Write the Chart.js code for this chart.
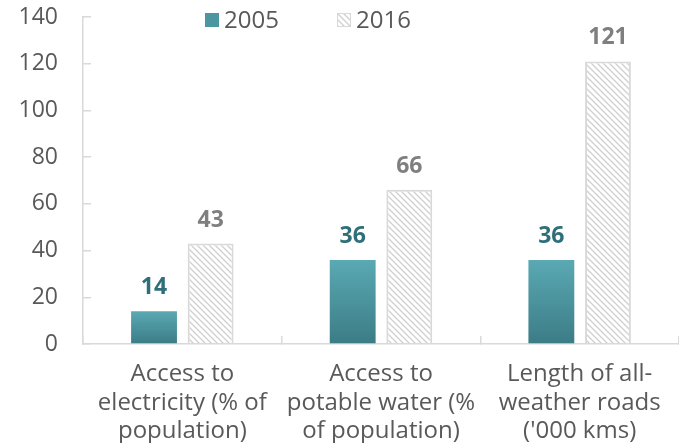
<!DOCTYPE html>
<html>
<head>
<meta charset="utf-8">
<script src="https://cdn.jsdelivr.net/npm/chart.js@4"></script>
<style>
  html, body { margin: 0; padding: 0; background: #fff; }
  #wrap { width: 679px; height: 443px; }
</style>
</head>
<body>
<div id="wrap"><canvas id="chart"></canvas></div>
<script>
const categories = [
    ['Access to', 'electricity (% of', 'population)'],
    ['Access to', 'potable water (%', 'of population)'],
    ['Length of all-', 'weather roads', "('000 kms)"]
];
const seriesNames = ['2005', '2016'];
const values2005 = [14, 36, 36];
const values2016 = [43, 66, 121];
const yTicks = [0, 20, 40, 60, 80, 100, 120, 140];

const FONT = "'Open Sans', sans-serif";
const AXIS_GRAY = '#d9d9d9';
const TEXT_GRAY = '#595959';

// diagonal hatch used for the 2016 bars
function makeHatch() {
    const c = document.createElement('canvas');
    c.width = 6; c.height = 6;
    const g = c.getContext('2d');
    g.fillStyle = '#fff';
    g.fillRect(0, 0, 6, 6);
    g.strokeStyle = '#cfcfcf';
    g.lineWidth = 1.3;
    g.beginPath();
    g.moveTo(0, 0); g.lineTo(6, 6);
    g.moveTo(-3, 3); g.lineTo(3, 9);
    g.moveTo(3, -3); g.lineTo(9, 3);
    g.stroke();
    return g.createPattern(c, 'repeat');
}
const hatch = makeHatch();

// teal gradient, lighter at the top of each bar
function tealGradient(ctx) {
    const chart = ctx.chart;
    if (!chart.chartArea || ctx.type !== 'data') return '#4b97a1';
    const y = chart.scales.y;
    const top = y.getPixelForValue(ctx.raw);
    const bottom = y.getPixelForValue(0);
    const grad = chart.ctx.createLinearGradient(0, top, 0, bottom);
    grad.addColorStop(0, '#5aa9b3');
    grad.addColorStop(1, '#3b7c86');
    return grad;
}

const valueLabels = {
    id: 'valueLabels',
    afterDatasetsDraw(chart) {
        const ctx = chart.ctx;
        const colors = ['#2f6f79', '#7f7f7f'];
        ctx.save();
        ctx.font = 'bold 23px ' + FONT;
        ctx.textAlign = 'center';
        ctx.textBaseline = 'alphabetic';
        chart.data.datasets.forEach((ds, i) => {
            ctx.fillStyle = colors[i];
            chart.getDatasetMeta(i).data.forEach((bar, j) => {
                ctx.fillText(String(ds.data[j]), bar.x, bar.y - 17);
            });
        });
        ctx.restore();
    }
};

const topLegend = {
    id: 'topLegend',
    afterDraw(chart) {
        const ctx = chart.ctx;
        const items = [
            { x: 205, fill: '#4b97a1', border: null },
            { x: 337, fill: hatch, border: AXIS_GRAY }
        ];
        ctx.save();
        ctx.font = '24px ' + FONT;
        ctx.textBaseline = 'middle';
        ctx.textAlign = 'left';
        items.forEach((it, i) => {
            ctx.fillStyle = it.fill;
            ctx.fillRect(it.x, 13, 14, 14);
            if (it.border) {
                ctx.strokeStyle = it.border;
                ctx.lineWidth = 1;
                ctx.strokeRect(it.x + 0.5, 13.5, 13, 13);
            }
            ctx.fillStyle = TEXT_GRAY;
            ctx.fillText(chart.data.datasets[i].label, it.x + 19, 21);
        });
        ctx.restore();
    }
};

new Chart(document.getElementById('chart'), {
    type: 'bar',
    data: {
        labels: categories,
        datasets: [
            {
                label: seriesNames[0],
                data: values2005,
                backgroundColor: tealGradient,
                borderWidth: 0
            },
            {
                label: seriesNames[1],
                data: values2016,
                backgroundColor: hatch,
                borderColor: AXIS_GRAY,
                borderWidth: 2
            }
        ]
    },
    options: {
        responsive: true,
        maintainAspectRatio: false,
        animation: false,
        categoryPercentage: 0.57,
        barPercentage: 0.81,
        layout: { padding: { top: 17, right: 0, left: 0, bottom: 0 } },
        plugins: {
            legend: { display: false },
            tooltip: { enabled: false }
        },
        scales: {
            x: {
                grid: {
                    offset: true,
                    drawOnChartArea: false,
                    drawTicks: true,
                    tickLength: -8,
                    color: AXIS_GRAY,
                    lineWidth: 1.5
                },
                border: { color: AXIS_GRAY, width: 1.5 },
                ticks: {
                    color: TEXT_GRAY,
                    font: { family: FONT, size: 24, lineHeight: 1.19 },
                    padding: 24,
                    maxRotation: 0,
                    autoSkip: false
                },
                afterFit(scale) {
                    scale.height = 99;
                    scale.paddingLeft = 0;
                    scale.paddingRight = 0;
                }
            },
            y: {
                min: 0,
                max: 140,
                afterBuildTicks(scale) {
                    scale.ticks = yTicks.map(v => ({ value: v }));
                },
                grid: {
                    drawOnChartArea: false,
                    drawTicks: true,
                    tickLength: -8,
                    color: AXIS_GRAY,
                    lineWidth: 1.5
                },
                border: { color: AXIS_GRAY, width: 1.5 },
                ticks: {
                    color: TEXT_GRAY,
                    font: { family: FONT, size: 23 },
                    padding: 33
                },
                afterFit(scale) {
                    scale.width = 83;
                    scale.paddingTop = 0;
                    scale.paddingBottom = 0;
                }
            }
        }
    },
    plugins: [valueLabels, topLegend]
});
</script>
</body>
</html>
